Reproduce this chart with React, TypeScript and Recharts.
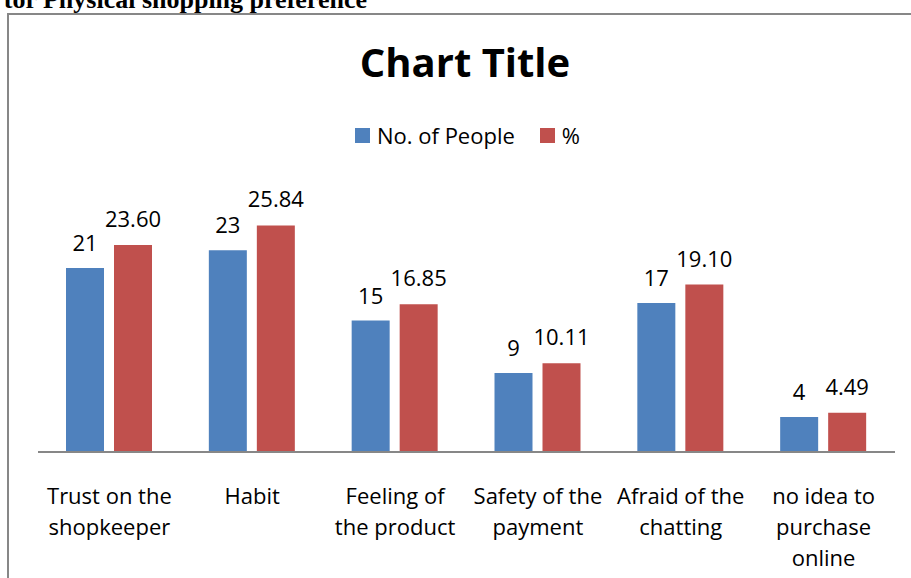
import { Bar, BarChart, LabelList, Legend, XAxis, YAxis } from "recharts";

const categories = [
  "Trust on the\nshopkeeper",
  "Habit",
  "Feeling of\nthe product",
  "Safety of the\npayment",
  "Afraid of the\nchatting",
  "no idea to\npurchase\nonline",
];
const people = [21, 23, 15, 9, 17, 4];
const percent = [23.6, 25.84, 16.85, 10.11, 19.1, 4.49];

const data = categories.map((label, i) => ({ label, people: people[i], percent: percent[i] }));

const BLUE = "#4F81BD";
const RED = "#C0504D";
const FONT = "'Open Sans', 'Noto Sans', sans-serif";

// tick multi-ligne, comme les libellés d'Excel
function CategoryTick(props: any) {
  const { x, y, payload } = props;
  const lines = String(payload.value).split("\n");
  return (
    <text x={x} y={y} textAnchor="middle" fontFamily={FONT} fontSize={22} fill="#000">
      {lines.map((line, i) => (
        <tspan key={i} x={x} dy={i === 0 ? 44 : 31}>
          {line}
        </tspan>
      ))}
    </text>
  );
}

function LegendContent() {
  const items = [
    { name: "No. of People", color: BLUE },
    { name: "%", color: RED },
  ];
  return (
    <div style={{ display: "flex", justifyContent: "center", gap: 25, fontFamily: FONT, fontSize: 22 }}>
      {items.map((it) => (
        <div key={it.name} style={{ display: "flex", alignItems: "center" }}>
          <span style={{ width: 15, height: 15, background: it.color, marginRight: 7, display: "inline-block" }} />
          <span>{it.name}</span>
        </div>
      ))}
    </div>
  );
}

export default function App() {
  return (
    <div style={{ position: "fixed", left: 0, top: 0, width: 911, height: 578, overflow: "hidden", background: "#fff" }}>
      <div
        style={{
          position: "absolute",
          left: 7,
          top: 13,
          width: 940,
          height: 600,
          border: "2px solid #878787",
          boxSizing: "border-box",
        }}
      />
      <svg width={911} height={100} style={{ position: "absolute", left: 0, top: 0 }}>
        <text x={367} y={8} textAnchor="end" fontFamily="'Liberation Serif', serif" fontWeight="bold" fontSize={26}>
          tor Physical shopping preference
        </text>
        <text x={465} y={77} textAnchor="middle" fontFamily={FONT} fontWeight="bold" fontSize={40}>
          Chart Title
        </text>
      </svg>
      <div style={{ position: "absolute", left: 0, top: 0 }}>
        <BarChart
          width={911}
          height={578}
          data={data}
          margin={{ top: 189, right: 16, bottom: 6, left: 38 }}
          barSize={38}
          barGap={10}
        >
          <XAxis
            dataKey="label"
            height={120}
            interval={0}
            tickLine={false}
            axisLine={{ stroke: "#878787", strokeWidth: 2 }}
            tick={<CategoryTick />}
          />
          <YAxis hide domain={[0, 30]} />
          <Legend
            verticalAlign="middle"
            align="center"
            layout="horizontal"
            content={<LegendContent />}
            wrapperStyle={{ top: 120, left: 12, width: 911 }}
          />
          <Bar dataKey="people" name="No. of People" fill={BLUE} isAnimationActive={false}>
            <LabelList dataKey="people" position="top" offset={17} fontFamily={FONT} fontSize={22} fill="#000" />
          </Bar>
          <Bar dataKey="percent" name="%" fill={RED} isAnimationActive={false}>
            <LabelList
              dataKey="percent"
              position="top"
              offset={18}
              fontFamily={FONT}
              fontSize={22}
              fill="#000"
              formatter={(v: any) => Number(v).toFixed(2)}
            />
          </Bar>
        </BarChart>
      </div>
    </div>
  );
}
